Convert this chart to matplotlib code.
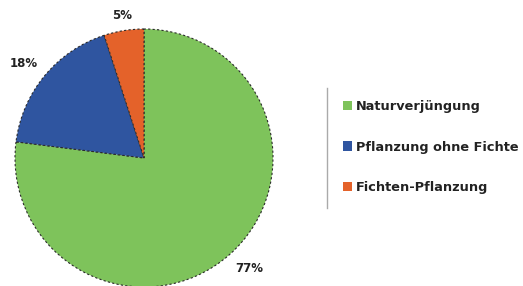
import matplotlib
matplotlib.use("Agg")
import numpy as np
import matplotlib.pyplot as plt
from matplotlib.lines import Line2D
from matplotlib.patches import Patch

categories = ["Naturverjüngung", "Pflanzung ohne Fichte", "Fichten-Pflanzung"]
values = [77, 18, 5]
colors = ["#7EC35B", "#2F55A0", "#E4622A"]

plt.rcParams['font.family'] = ['DejaVu Sans']

W, H = 523, 286
fig = plt.figure(figsize=(W / 100, H / 100), dpi=100)
fig.patch.set_facecolor("white")

cx, cy, R = 144, 158, 129
ax = fig.add_axes([(cx - R) / W, (H - cy - R) / H, 2 * R / W, 2 * R / H])
wedges, texts, autotexts = ax.pie(
    values, colors=colors, startangle=90, counterclock=False,
    autopct=lambda p: f"{p:.0f}%", pctdistance=1.07, radius=1,
    wedgeprops=dict(edgecolor="#2a2a2a", linewidth=0.8, linestyle=(0, (2, 2))),
    textprops=dict(fontsize=8.5, fontweight="bold", color="#222222"),
)
for w, t in zip(wedges, autotexts):
    mid = np.deg2rad((w.theta1 + w.theta2) / 2)
    c, s = np.cos(mid), np.sin(mid)
    t.set_ha("left" if c > 0.3 else ("right" if c < -0.3 else "center"))
    t.set_va("bottom" if s > 0 else "top")
ax.set_xlim(-1, 1)
ax.set_ylim(-1, 1)
ax.set_aspect("equal")

handles = [Patch(facecolor=col, edgecolor="none") for col in colors]
fig.legend(handles, categories, loc="center left",
           bbox_to_anchor=(343 / W, 1 - 147 / H), frameon=False,
           borderaxespad=0, borderpad=0,
           handlelength=0.7, handleheight=0.7, handletextpad=0.3,
           labelspacing=2.15,
           prop=dict(size=9.3, weight="bold"), labelcolor="#222222")

fig.add_artist(Line2D([327 / W, 327 / W], [1 - 88 / H, 1 - 208 / H],
                      transform=fig.transFigure, color="#aaaaaa", linewidth=1))

fig.savefig("out.png", dpi=100)
